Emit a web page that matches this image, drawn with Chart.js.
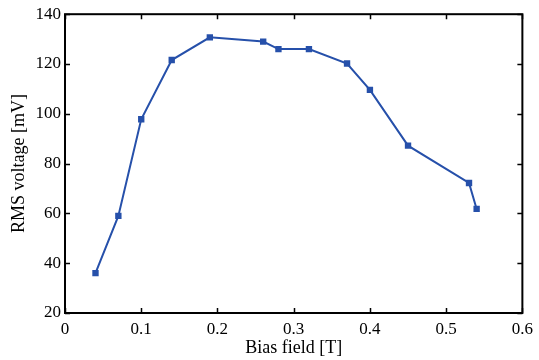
<!DOCTYPE html>
<html>
<head>
<meta charset="utf-8">
<script src="https://cdn.jsdelivr.net/npm/chart.js@4/dist/chart.umd.min.js"></script>
<style>
html, body { margin: 0; padding: 0; background: #fff; }
#wrap { width: 539px; height: 360px; }
</style>
</head>
<body>
<div id="wrap"><canvas id="chart"></canvas></div>
<script>
// Data
const biasField = [0.04, 0.07, 0.10, 0.14, 0.19, 0.26, 0.28, 0.32, 0.37, 0.40, 0.45, 0.53, 0.54];
const rmsVoltage = [36, 59, 97.8, 121.6, 130.7, 129, 126, 126, 120.2, 109.6, 87.2, 72.2, 61.8];
const xTicks = [0, 0.1, 0.2, 0.3, 0.4, 0.5, 0.6];
const yTicks = [20, 40, 60, 80, 100, 120, 140];

const blue = "#2650aa";
const serif = "'Liberation Serif', 'Times New Roman', serif";

// frame + inward ticks on all four sides
const frameTicks = {
  id: "frameTicks",
  afterDatasetsDraw(chart){
    const c = chart.ctx, a = chart.chartArea;
    const xs = chart.scales.x, ys = chart.scales.y;
    const len = 5;
    c.save();
    c.strokeStyle = "#000";
    c.lineWidth = 1.5;
    c.beginPath();
    xTicks.forEach(v => {
      const px = Math.round(xs.getPixelForValue(v)) + 0.5;
      c.moveTo(px, a.bottom); c.lineTo(px, a.bottom - len);
      c.moveTo(px, a.top); c.lineTo(px, a.top + len);
    });
    yTicks.forEach(v => {
      const py = Math.round(ys.getPixelForValue(v)) + 0.5;
      c.moveTo(a.left, py); c.lineTo(a.left + len, py);
      c.moveTo(a.right, py); c.lineTo(a.right - len, py);
    });
    c.stroke();
    c.lineWidth = 2;
    c.strokeRect(a.left, a.top, a.right - a.left, a.bottom - a.top);
    c.restore();
  }
};

const ctx = document.getElementById("chart").getContext("2d");

const chart = new Chart(ctx, {
  type: "line",
  data: {
    datasets: [{
      data: biasField.map((x, i) => ({x: x, y: rmsVoltage[i]})),
      borderColor: blue,
      backgroundColor: blue,
      borderWidth: 2,
      pointStyle: "rect",
      pointRadius: 4.5,
      pointHoverRadius: 4.5,
      pointBorderWidth: 0,
      tension: 0
    }]
  },
  options: {
    responsive: true,
    maintainAspectRatio: false,
    animation: false,
    devicePixelRatio: 1,
    layout: { padding: { top: 14, right: 12, left: 0, bottom: 0 } },
    plugins: {
      legend: { display: false },
      tooltip: { enabled: false }
    },
    scales: {
      x: {
        type: "linear",
        min: 0, max: 0.6,
        afterBuildTicks(s){ s.ticks = xTicks.map(v => ({value: v})); },
        afterFit(s){ s.height = 47; },
        grid: { display: false, drawTicks: false },
        border: { display: false },
        ticks: {
          color: "#000",
          padding: 6,
          maxRotation: 0,
          font: { family: serif, size: 17 },
          callback: v => String(v)
        },
        title: {
          display: true,
          text: "Bias field [T]",
          color: "#000",
          padding: { top: 0, bottom: 1 },
          font: { family: serif, size: 18 }
        }
      },
      y: {
        type: "linear",
        min: 20, max: 140,
        afterBuildTicks(s){ s.ticks = yTicks.map(v => ({value: v})); },
        afterFit(s){ s.width = 65; },
        grid: { display: false, drawTicks: false },
        border: { display: false },
        ticks: {
          color: "#000",
          padding: 4,
          font: { family: serif, size: 17 }
        },
        title: {
          display: true,
          text: "RMS voltage [mV]",
          color: "#000",
          padding: { top: 8, bottom: 0 },
          font: { family: serif, size: 18 }
        }
      }
    }
  },
  plugins: [frameTicks]
});
</script>
</body>
</html>
